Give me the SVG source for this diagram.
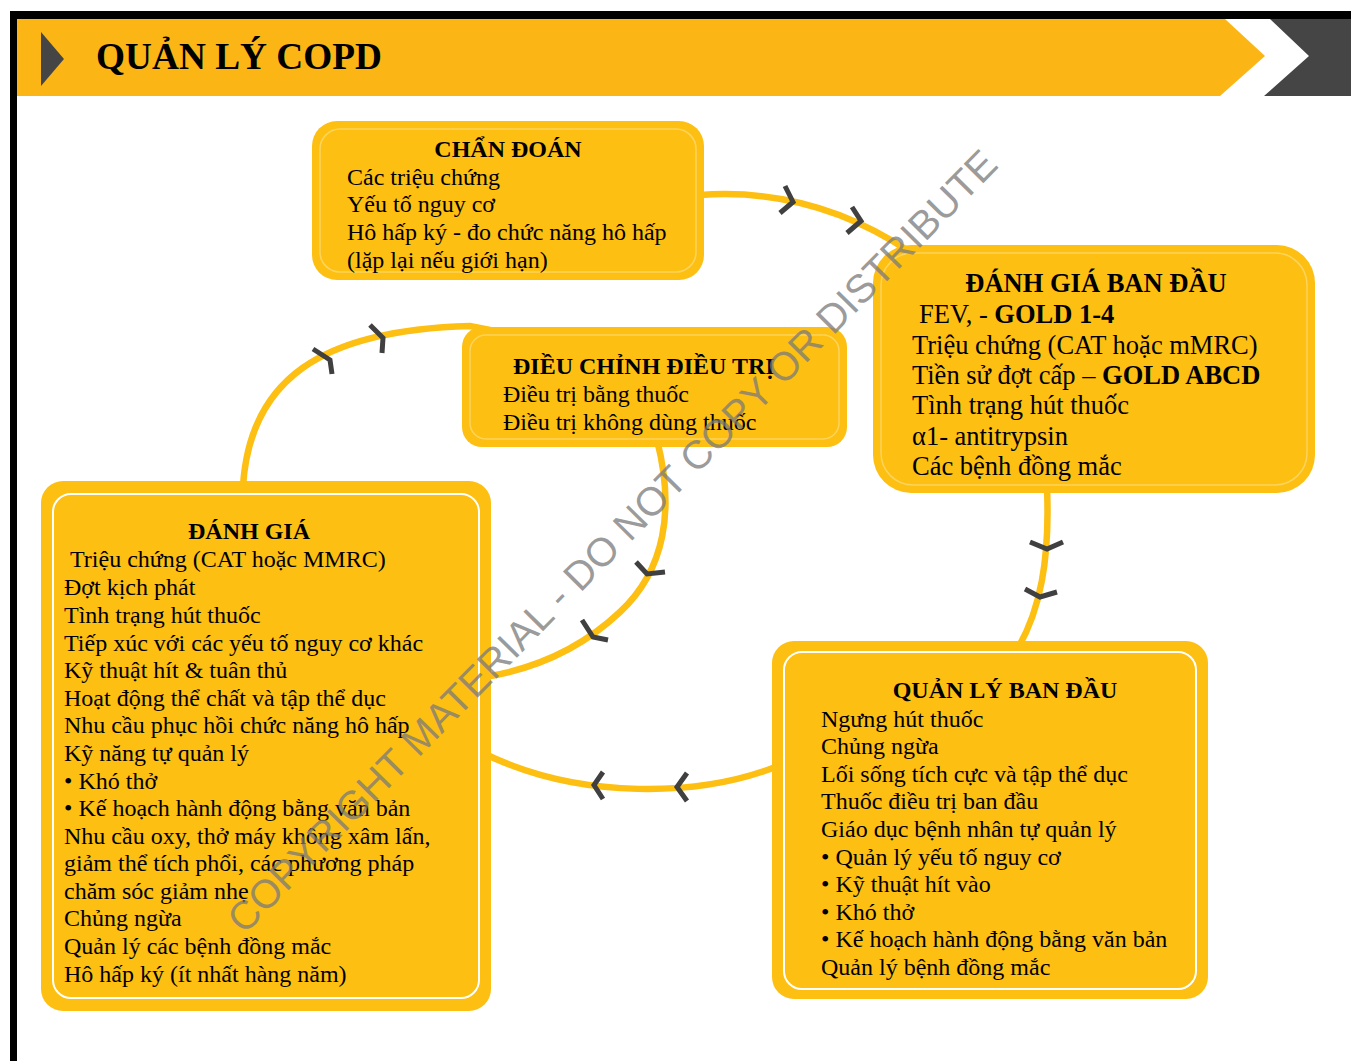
<svg xmlns="http://www.w3.org/2000/svg" width="1351" height="1061" viewBox="0 0 1351 1061">
<defs>
<style>
.t{font-family:"Liberation Serif","Times New Roman",serif;font-size:24px;fill:#000}
.t2{font-family:"Liberation Serif","Times New Roman",serif;font-size:26.5px;fill:#000}
.b{font-weight:bold}
.box{fill:#FDBF12}
.inF{fill:none;stroke:#FDD45E;stroke-width:1.5}
.inW{fill:none;stroke:#FFFFFF;stroke-width:2}
.con{fill:none;stroke:#FDBF12;stroke-width:6.5}
.chev{fill:none;stroke:#404040;stroke-width:5;stroke-linejoin:miter;stroke-linecap:butt}
.wm{font-family:"Liberation Sans",Arial,sans-serif;font-size:40px;fill:#7a7a7a;fill-opacity:0.75}
</style>
</defs>
<rect x="0" y="0" width="1351" height="1061" fill="#FFFFFF"/>
<g id="frame">
<rect x="10" y="11" width="1341" height="8" fill="#000"/>
<rect x="10" y="11" width="7" height="1050" fill="#000"/>
<path d="M17,19 L1225,19 L1265,56 L1220,96 L17,96 Z" fill="#FBB515"/>
<path d="M1270,19 L1351,19 L1351,96 L1264,96 L1309,56 Z" fill="#454545"/>
<path d="M41,32 L64,59 L41,86 Z" fill="#454545"/>
<text x="96" y="69" font-family="Liberation Serif,'Times New Roman',serif" font-size="37.3" font-weight="bold" fill="#000">QUẢN LÝ COPD</text>
</g>
<g id="connectors">
<path class="con" d="M700,195 C770,190 840,205 910,252"/>
<path class="con" d="M1047,488 C1050,560 1040,610 1018,648"/>
<path class="con" d="M778,766 C700,797 580,800 485,754"/>
<path class="con" d="M657,440 C675,510 665,570 620,612 C585,645 540,668 485,677"/>
<path class="con" d="M243,486 C250,380 320,330 470,326 L490,330"/>
<path class="chev" d="M785,186 L793,202 L780,213"/>
<path class="chev" d="M852,207 L861,221 L847,233"/>
<path class="chev" d="M1030,542 L1047,549 L1063,542"/>
<path class="chev" d="M1025,589 L1040,597 L1057,592"/>
<path class="chev" d="M603,772 L594,785 L603,799"/>
<path class="chev" d="M687,773 L677,787 L687,801"/>
<path class="chev" d="M636,562 L647,574 L665,572"/>
<path class="chev" d="M582,620 L593,637 L608,640"/>
<path class="chev" d="M313,349 L330,360 L332,374"/>
<path class="chev" d="M370,325 L383,338 L382,353"/>
</g>
<g id="chan-doan">
<rect class="box" x="312" y="121" width="392" height="159" rx="25"/>
<rect class="inF" x="320" y="129" width="376" height="143" rx="20"/>
<text class="t b" x="508" y="157" text-anchor="middle">CHẨN ĐOÁN</text>
<text class="t" x="347" y="185">Các triệu chứng</text>
<text class="t" x="347" y="212">Yếu tố nguy cơ</text>
<text class="t" x="347" y="240">Hô hấp ký - đo chức năng hô hấp</text>
<text class="t" x="347" y="268">(lặp lại nếu giới hạn)</text>
</g>
<g id="danh-gia-ban-dau">
<rect class="box" x="873" y="245" width="442" height="248" rx="38"/>
<rect class="inF" x="881" y="253" width="426" height="232" rx="32"/>
<text class="t2 b" x="1096" y="292" text-anchor="middle">ĐÁNH GIÁ BAN ĐẦU</text>
<text class="t2" x="919" y="323">FEV, - <tspan class="b">GOLD 1-4</tspan></text>
<text class="t2" x="912" y="353.5">Triệu chứng (CAT hoặc mMRC)</text>
<text class="t2" x="912" y="384">Tiền sử đợt cấp – <tspan class="b">GOLD ABCD</tspan></text>
<text class="t2" x="912" y="414">Tình trạng hút thuốc</text>
<text class="t2" x="912" y="444.5">α1- antitrypsin</text>
<text class="t2" x="912" y="475">Các bệnh đồng mắc</text>
</g>
<g id="dieu-chinh-dieu-tri">
<rect class="box" x="462" y="327" width="385" height="120" rx="20"/>
<rect class="inF" x="470" y="335" width="369" height="104" rx="16"/>
<text class="t b" x="513" y="374">ĐIỀU CHỈNH ĐIỀU TRỊ</text>
<text class="t" x="503" y="402">Điều trị bằng thuốc</text>
<text class="t" x="503" y="430">Điều trị không dùng thuốc</text>
</g>
<g id="danh-gia">
<rect class="box" x="41" y="481" width="450" height="530" rx="22"/>
<rect class="inW" x="53" y="494" width="426" height="504" rx="18"/>
<text class="t b" x="249" y="539" text-anchor="middle">ĐÁNH GIÁ</text>
<text class="t" x="70" y="567">Triệu chứng (CAT hoặc MMRC)</text>
<text class="t" x="64" y="595">Đợt kịch phát</text>
<text class="t" x="64" y="623">Tình trạng hút thuốc</text>
<text class="t" x="64" y="651">Tiếp xúc với các yếu tố nguy cơ khác</text>
<text class="t" x="64" y="678">Kỹ thuật hít &amp; tuân thủ</text>
<text class="t" x="64" y="706">Hoạt động thể chất và tập thể dục</text>
<text class="t" x="64" y="733">Nhu cầu phục hồi chức năng hô hấp</text>
<text class="t" x="64" y="761">Kỹ năng tự quản lý</text>
<text class="t" x="64" y="788.5">• Khó thở</text>
<text class="t" x="64" y="816">• Kế hoạch hành động bằng văn bản</text>
<text class="t" x="64" y="844">Nhu cầu oxy, thở máy không xâm lấn,</text>
<text class="t" x="64" y="871">giảm thể tích phổi, các phương pháp</text>
<text class="t" x="64" y="899">chăm sóc giảm nhẹ</text>
<text class="t" x="64" y="926">Chủng ngừa</text>
<text class="t" x="64" y="954">Quản lý các bệnh đồng mắc</text>
<text class="t" x="64" y="982">Hô hấp ký (ít nhất hàng năm)</text>
</g>
<g id="quan-ly-ban-dau">
<rect class="box" x="772" y="641" width="436" height="358" rx="22"/>
<rect class="inW" x="784" y="652" width="412" height="337" rx="18"/>
<text class="t b" x="1005" y="698" text-anchor="middle">QUẢN LÝ BAN ĐẦU</text>
<text class="t" x="821" y="727">Ngưng hút thuốc</text>
<text class="t" x="821" y="754">Chủng ngừa</text>
<text class="t" x="821" y="782">Lối sống tích cực và tập thể dục</text>
<text class="t" x="821" y="809">Thuốc điều trị ban đầu</text>
<text class="t" x="821" y="837">Giáo dục bệnh nhân tự quản lý</text>
<text class="t" x="821" y="865">• Quản lý yếu tố nguy cơ</text>
<text class="t" x="821" y="892">• Kỹ thuật hít vào</text>
<text class="t" x="821" y="920">• Khó thở</text>
<text class="t" x="821" y="947">• Kế hoạch hành động bằng văn bản</text>
<text class="t" x="821" y="975">Quản lý bệnh đồng mắc</text>
</g>
<g id="watermark">
<text class="wm" transform="translate(612,541) rotate(-45.5)" x="0" y="14" text-anchor="middle">COPYRIGHT MATERIAL - DO NOT COPY OR DISTRIBUTE</text>
</g>
</svg>
